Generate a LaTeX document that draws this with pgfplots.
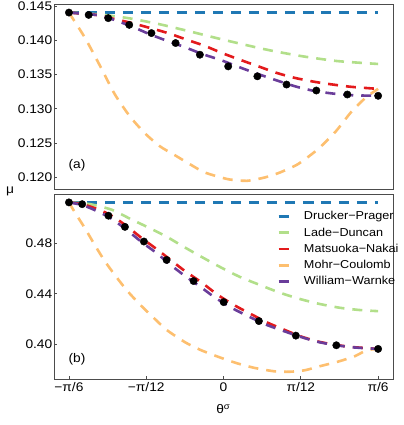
\documentclass[border=0pt]{standalone}
\usepackage{fontspec}
\setmainfont{Liberation Sans}[FakeStretch=1.1]
\usepackage{pgfplots}
\pgfplotsset{compat=1.18}
\usepgfplotslibrary{groupplots}

\definecolor{cDP}{HTML}{1F78B4}
\definecolor{cLD}{HTML}{B2DF8A}
\definecolor{cMN}{HTML}{E31A1C}
\definecolor{cMC}{HTML}{FDBF6F}
\definecolor{cWW}{HTML}{6A3D9A}

\pgfplotsset{
  crv/.style={line width=2.6pt, dash pattern=on 10pt off 8pt, smooth, tension=0.4, no marks},
  dots/.style={only marks, mark=*, mark size=3.7pt, black},
}

\begin{document}
\begin{tikzpicture}[font=\fontsize{12.5}{14}\selectfont]
\begin{groupplot}[
  group style={group name=G, group size=1 by 2, vertical sep=5pt},
  width=339pt, height=185pt, scale only axis,
  xmin=-0.5743, xmax=0.5733,
  tick align=inside, xtick pos=left, ytick pos=left,
  axis line style={black!70}, major tick style={black!70, line width=0.8pt},
  major tick length=3pt,
  /pgf/number format/assume math mode=true,
  yticklabel style={inner sep=1.5pt},
]
% (a)
\nextgroupplot[ymin=0.1183, ymax=0.14525, xtick=\empty,
  ytick={0.120,0.125,0.130,0.135,0.140,0.145},
  yticklabel style={/pgf/number format/.cd, fixed, fixed zerofill, precision=3}]
\addplot[crv, cDP] coordinates {(-0.5236,0.144) (0.5236,0.144)};
\addplot[crv, cLD] coordinates {(-0.5236,0.14403) (-0.4186,0.14375) (-0.3170,0.14318) (-0.2155,0.14232) (-0.1139,0.14128) (0.0046,0.14002) (0.1400,0.13868) (0.2585,0.13772) (0.3837,0.13697) (0.5236,0.13654)};
\addplot[crv, cMN] coordinates {(-0.5236,0.14403) (-0.4331,0.14369) (-0.3712,0.14311) (-0.3092,0.14249) (-0.2470,0.14176) (-0.1884,0.14104) (-0.1240,0.14007) (-0.0631,0.13917) (-0.0056,0.13814) (0.0553,0.13716) (0.1163,0.13622) (0.1806,0.13523) (0.2415,0.13451) (0.3093,0.13393) (0.3702,0.13354) (0.4344,0.13320) (0.5236,0.13291)};
\addplot[crv, cMC] coordinates {(-0.5236,0.14403) (-0.4694,0.14036) (-0.4186,0.13629) (-0.3678,0.13209) (-0.3170,0.12889) (-0.2662,0.12643) (-0.2155,0.12454) (-0.1647,0.12324) (-0.1139,0.12193) (-0.0631,0.12072) (0.0147,0.11975) (0.0790,0.11951) (0.1400,0.12000) (0.1908,0.12072) (0.2517,0.12193) (0.3194,0.12411) (0.3803,0.12672) (0.4311,0.12947) (0.4819,0.13165) (0.5236,0.13291)};
\addplot[crv, cWW] coordinates {(-0.5236,0.14403) (-0.4186,0.14362) (-0.3712,0.14297) (-0.3103,0.14200) (-0.2493,0.14086) (-0.1918,0.13992) (-0.1308,0.13898) (-0.0699,0.13796) (-0.0124,0.13716) (0.0486,0.13615) (0.1129,0.13513) (0.1772,0.13419) (0.2449,0.13325) (0.3093,0.13259) (0.3702,0.13223) (0.4378,0.13198) (0.5236,0.13190)};
\addplot[dots] coordinates {(-0.5236,0.14403) (-0.4568,0.14369) (-0.3905,0.14322) (-0.3194,0.14224) (-0.2442,0.14104) (-0.1623,0.13959) (-0.0801,0.13789) (0.0157,0.13619) (0.1146,0.13474) (0.2134,0.13354) (0.3143,0.13267) (0.4193,0.13209) (0.5236,0.13190)};
\node at (rel axis cs:0.068,0.129) {(a)};
% (b)
\nextgroupplot[ymin=0.372, ymax=0.5194,
  xtick={-0.5236,-0.2618,0,0.2618,0.5236},
  xticklabels={−π/6,−π/12,0,π/12,π/6},
  ytick={0.40,0.44,0.48},
  yticklabel style={/pgf/number format/.cd, fixed, fixed zerofill, precision=2},
  xlabel={θ\textsuperscript{σ}}, xlabel style={yshift=-6pt},
  legend style={at={(0.65,0.928)}, anchor=north west, draw=none, fill=none,
    font=\fontsize{11.5}{13}\selectfont, row sep=2.4pt,
    /tikz/every odd column/.append style={column sep=12pt}},
  legend cell align=left,
  legend image code/.code={\draw[#1,solid] (0pt,0pt) -- (10pt,0pt);}]
\addplot[crv, cDP] coordinates {(-0.5236,0.5128) (0.5236,0.5128)};
\addlegendentry{Drucker−Prager}
\addplot[crv, cLD] coordinates {(-0.5236,0.5128) (-0.4525,0.5114) (-0.3780,0.5069) (-0.3137,0.4994) (-0.2527,0.4926) (-0.1952,0.4858) (-0.1376,0.4778) (-0.0801,0.4701) (-0.0124,0.4614) (0.0553,0.4534) (0.1230,0.4470) (0.1908,0.4408) (0.2585,0.4358) (0.3261,0.4318) (0.3939,0.4288) (0.4616,0.4270) (0.5236,0.4261)};
\addlegendentry{Lade−Duncan}
\addplot[crv, cMN] coordinates {(-0.5236,0.5128) (-0.4795,0.5114) (-0.4355,0.5082) (-0.3881,0.5034) (-0.3340,0.4950) (-0.2764,0.4842) (-0.2256,0.4754) (-0.1749,0.4661) (-0.1308,0.4581) (-0.0733,0.4488) (-0.0191,0.4390) (0.0384,0.4306) (0.0960,0.4234) (0.1502,0.4168) (0.2044,0.4114) (0.2585,0.4062) (0.3160,0.4021) (0.3736,0.3994) (0.4412,0.3974) (0.5236,0.3960)};
\addlegendentry{Matsuoka−Nakai}
\addplot[crv, cMC] coordinates {(-0.5236,0.5128) (-0.4998,0.5034) (-0.4694,0.4922) (-0.4355,0.4786) (-0.4017,0.4658) (-0.3645,0.4538) (-0.3272,0.4426) (-0.2832,0.4314) (-0.2358,0.4206) (-0.1918,0.4110) (-0.1308,0.4014) (-0.0801,0.3954) (-0.0191,0.3898) (0.0452,0.3846) (0.1061,0.3808) (0.1739,0.3781) (0.2247,0.3778) (0.2754,0.3790) (0.3261,0.3822) (0.3871,0.3858) (0.4446,0.3902) (0.4853,0.3950) (0.5236,0.3960)};
\addlegendentry{Mohr−Coulomb}
\addplot[crv, cWW] coordinates {(-0.5236,0.5128) (-0.4795,0.5108) (-0.4355,0.5066) (-0.3847,0.5006) (-0.3306,0.4914) (-0.2764,0.4810) (-0.2256,0.4722) (-0.1816,0.4634) (-0.1308,0.4542) (-0.0801,0.4458) (-0.0293,0.4370) (0.0283,0.4286) (0.0858,0.4218) (0.1434,0.4154) (0.2044,0.4102) (0.2585,0.4058) (0.3160,0.4018) (0.3736,0.3992) (0.4412,0.3972) (0.5236,0.3960)};
\addlegendentry{William−Warnke}
\addplot[dots] coordinates {(-0.5236,0.5128) (-0.4788,0.5114) (-0.3898,0.5022) (-0.3340,0.4933) (-0.2696,0.4816) (-0.1928,0.4669) (-0.1014,0.4501) (0.0005,0.4333) (0.1197,0.4182) (0.2449,0.4066) (0.3820,0.3989) (0.5236,0.3960)};
\node at (rel axis cs:0.068,0.109) {(b)};
\end{groupplot}
\node at ([xshift=-44pt,yshift=-2.5pt]G c1r1.south west) {μ};
\path ([xshift=-54pt,yshift=4pt]G c1r1.north west) rectangle ([xshift=6pt,yshift=-46pt]G c1r2.south east);
\end{tikzpicture}
\end{document}
